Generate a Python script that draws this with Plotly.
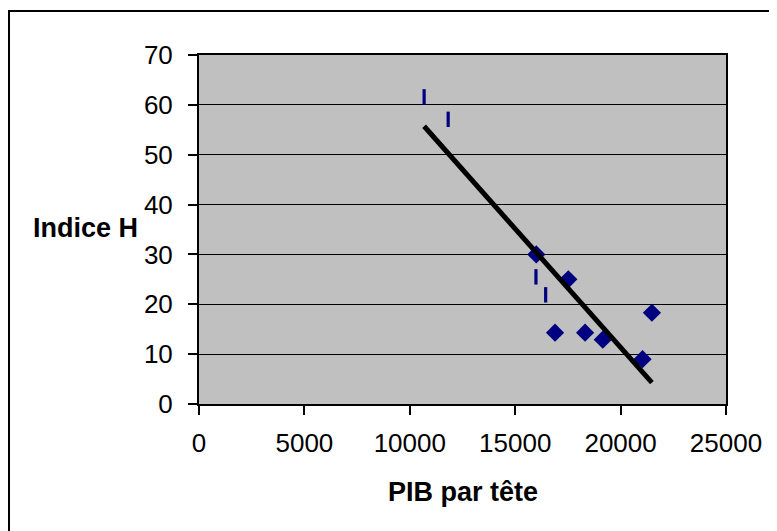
import numpy as np
import plotly.graph_objects as go

# Data
diamond_x = [16000, 17520, 16890, 18315, 19155, 21485, 21040]
diamond_y = [30.0, 25.0, 14.3, 14.3, 12.9, 18.3, 9.0]
dash_x = [10680, 11820, 15985, 16445]
dash_y = [61.6, 57.1, 25.5, 21.9]

x_ticks = [0, 5000, 10000, 15000, 20000, 25000]
y_ticks = [0, 10, 20, 30, 40, 50, 60, 70]

all_x = np.array(diamond_x + dash_x, dtype=float)
all_y = np.array(diamond_y + dash_y, dtype=float)
slope, intercept = np.polyfit(all_x, all_y, 1)
trend_x = np.array([all_x.min(), all_x.max()])
trend_y = slope * trend_x + intercept

NAVY = "#000080"
FONT = "Liberation Sans, Arial, sans-serif"

fig = go.Figure()
fig.add_trace(go.Scatter(
    x=diamond_x, y=diamond_y, mode="markers",
    marker=dict(symbol="diamond", size=14, color=NAVY, line=dict(width=0)),
    showlegend=False, hoverinfo="skip"))
fig.add_trace(go.Scatter(
    x=dash_x, y=dash_y, mode="markers",
    marker=dict(symbol="line-ns", size=11, color=NAVY, line=dict(width=3.2, color=NAVY)),
    showlegend=False, hoverinfo="skip"))
fig.add_trace(go.Scatter(
    x=trend_x, y=trend_y, mode="lines",
    line=dict(color="black", width=5),
    showlegend=False, hoverinfo="skip"))

# page has an 8px body margin; figure coords = page coords - 8
OFF = 8
W, H = 777 - OFF, 531 - OFF
L = 199 - OFF
T = 47
B = H - (404 - OFF)
R = W - (726 - OFF)
pw, ph = W - L - R, H - T - B

def px_to_paper_x(px):
    return (px - OFF - L) / pw

def px_to_paper_y(py):
    return (H - B - (py - OFF)) / ph

fig.update_layout(
    width=W, height=H,
    margin=dict(l=L, r=R, t=T, b=B, pad=0),
    paper_bgcolor="white", plot_bgcolor="#C0C0C0",
    font=dict(family=FONT, size=26, color="black"),
    xaxis=dict(range=[0, 25000], tickvals=x_ticks, ticktext=[str(v) for v in x_ticks],
               showgrid=False, zeroline=False, showline=True, linecolor="black",
               linewidth=2, mirror=True, ticks="outside", ticklen=9, tickwidth=2,
               tickcolor="black", ticklabelstandoff=6,
               tickfont=dict(family=FONT, size=26, color="black")),
    yaxis=dict(range=[0, 70], tickvals=y_ticks, ticktext=[str(v) for v in y_ticks],
               showgrid=True, gridcolor="black", gridwidth=1, zeroline=False,
               showline=True, linecolor="black", linewidth=2, mirror=True,
               ticks="outside", ticklen=9, tickwidth=2, tickcolor="black",
               ticklabelstandoff=10,
               tickfont=dict(family=FONT, size=26, color="black")),
    annotations=[
        dict(text="<b>PIB par tête</b>", xref="paper", yref="paper",
             x=0.5, y=px_to_paper_y(492), xanchor="center", yanchor="middle",
             showarrow=False, font=dict(family=FONT, size=27, color="black")),
        dict(text="<b>Indice H</b>", xref="paper", yref="paper",
             x=px_to_paper_x(140), y=px_to_paper_y(228), xanchor="right", yanchor="middle",
             showarrow=False, font=dict(family=FONT, size=27, color="black")),
    ],
    shapes=[
        dict(type="rect", xref="paper", yref="paper",
             x0=px_to_paper_x(9), x1=px_to_paper_x(900),
             y0=px_to_paper_y(700), y1=px_to_paper_y(11),
             line=dict(color="black", width=2), fillcolor="rgba(0,0,0,0)", layer="below"),
    ],
)

fig.write_html("out.html")
